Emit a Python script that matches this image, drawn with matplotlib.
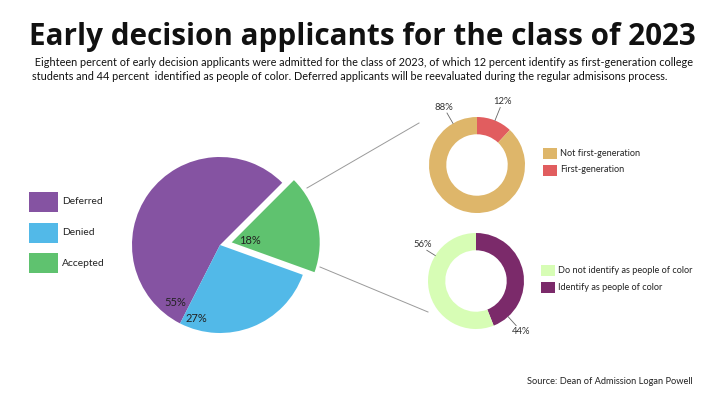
import matplotlib
matplotlib.use("Agg")
import matplotlib.pyplot as plt
from matplotlib.patches import Rectangle
import numpy as np

W, H = 723, 396

title = "Early decision applicants for the class of 2023"
subtitle_1 = " Eighteen percent of early decision applicants were admitted for the class of 2023, of which 12 percent identify as first-generation college"
subtitle_2 = "students and 44 percent  identified as people of color. Deferred applicants will be reevaluated during the regular admisisons process."
source = "Source: Dean of Admission Logan Powell"

main_labels = ["Deferred", "Denied", "Accepted"]
main_values = [55, 27, 18]
main_colors = ["#8553A2", "#52B9E8", "#5FC26F"]

gen_labels = ["First-generation", "Not first-generation"]
gen_values = [12, 88]
gen_colors = ["#E15D5F", "#DEB66A"]

poc_labels = ["Identify as people of color", "Do not identify as people of color"]
poc_values = [44, 56]
poc_colors = ["#7B2A6A", "#D7FDB5"]

FONT = "Open Sans"
SMALL = "Lato"

fig = plt.figure(figsize=(W / 100, H / 100), dpi=100)
fig.patch.set_facecolor("white")
ax = fig.add_axes([0, 0, 1, 1])


def Y(y):
    return H - y


# ---- main pie ----
mc = np.array([220.0, Y(245)])
mr = 88
wedges, _ = ax.pie(main_values, colors=main_colors, startangle=45, counterclock=True,
                   center=tuple(mc), radius=mr, wedgeprops=dict(linewidth=0))
# explode accepted slice
acc = wedges[2]
mid = np.deg2rad((acc.theta1 + acc.theta2) / 2)
d = 12
acc.set_center((mc[0] + d * np.cos(mid), mc[1] + d * np.sin(mid)))


def polar(c, r, deg):
    a = np.deg2rad(deg)
    return c[0] + r * np.cos(a), c[1] + r * np.sin(a)


w0, w1, w2 = wedges
x, y = polar(mc, 73, w0.theta2 - 11)
ax.text(x, y, f"{main_values[0]}%", fontsize=8, family=SMALL, color="#222", ha="center", va="center")
x, y = polar(mc, 77, w1.theta1 + 9)
ax.text(x, y, f"{main_values[1]}%", fontsize=8, family=SMALL, color="#222", ha="center", va="center")
ac = acc.center
x, y = polar(ac, 18, (acc.theta1 + acc.theta2) / 2 - 5)
ax.text(x, y, f"{main_values[2]}%", fontsize=8, family=SMALL, color="#222", ha="center", va="center")

# main legend
for i, (lab, col) in enumerate(zip(main_labels, main_colors)):
    top = 192 + i * 30.5
    ax.add_patch(Rectangle((29, Y(top + 20)), 29, 20, color=col, lw=0))
    ax.text(62, Y(top + 10), lab, fontsize=7.4, family=SMALL, color="#222", va="center")


# ---- donuts ----
def donut(values, colors, labels, c, r, legend_x, legend_y, box_w, box_h, gap):
    ws, _ = ax.pie(values, colors=colors, startangle=90, counterclock=False,
                   center=c, radius=r, wedgeprops=dict(width=r * 0.36, linewidth=0))
    for i in [1, 0]:
        lab = labels[i]
        top = legend_y + (1 - i) * gap
        ax.add_patch(Rectangle((legend_x, Y(top + box_h)), box_w, box_h, color=colors[i], lw=0))
        ax.text(legend_x + box_w + 3, Y(top + box_h / 2), lab, fontsize=6.6, family=SMALL,
                color="#222", va="center")
    return ws


gc = (477.0, Y(165))
gws = donut(gen_values, gen_colors, gen_labels, gc, 48, 543, 148, 14, 11, 16.5)
pc = (476.0, Y(281))
pws = donut(poc_values, poc_colors, poc_labels, pc, 48, 541, 265, 14, 11, 16.5)


def leader(c, r, deg, r2, lab, dx, dy):
    x1, y1 = polar(c, r, deg)
    x2, y2 = polar(c, r2, deg)
    ax.plot([x1, x2], [y1, y2], color="#666", lw=0.6)
    ax.text(x2 + dx, y2 + dy, lab, fontsize=6.8, family=SMALL, color="#333", ha="center", va="center")


leader(gc, 48, 68, 62, f"{gen_values[0]}%", 2, 6)
leader(gc, 48, 120, 60, f"{gen_values[1]}%", -3, 6)
leader(pc, 48, 148, 58, f"{poc_values[1]}%", -4, 6)
leader(pc, 48, -48, 60, f"{poc_values[0]}%", 5, -6)

# connector lines
ax.plot([307, 419], [Y(188), Y(123)], color="#9a9a9a", lw=0.7)
ax.plot([320, 428], [Y(267), Y(312)], color="#9a9a9a", lw=0.7)

# ---- texts ----
t_title = ax.text(362, Y(37), title, fontsize=22, family=FONT, weight="bold",
                  ha="center", va="center", color="#111")
t_s1 = ax.text(32, Y(62), subtitle_1, fontsize=8, family=SMALL, ha="left", va="center", color="#111")
t_s2 = ax.text(32, Y(76), subtitle_2, fontsize=8, family=SMALL, ha="left", va="center", color="#111")
ax.text(693, Y(382), source, fontsize=6.7, family=SMALL, ha="right", va="center", color="#222")

ax.set_xlim(0, W)
ax.set_ylim(0, H)
ax.set_aspect("equal")
ax.axis("off")

fig.canvas.draw()
r = fig.canvas.get_renderer()


def fit(t, target):
    bb = t.get_window_extent(r)
    t.set_fontsize(t.get_fontsize() * target / bb.width)


fit(t_title, 665)
fit(t_s2, 636)
t_s1.set_fontsize(t_s2.get_fontsize())

fig.savefig("out.png", dpi=100, facecolor="white")
